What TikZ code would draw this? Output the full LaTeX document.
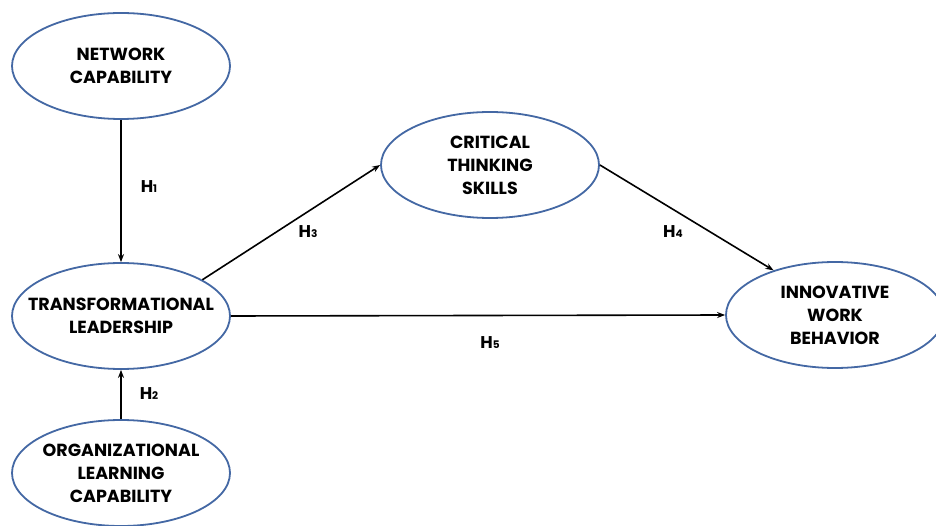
\documentclass[tikz,border=0pt]{standalone}
\usepackage{fontspec}
\setmainfont{Poppins}
\usepackage{tikz}
\usetikzlibrary{shapes.geometric,arrows.meta}
\definecolor{ovalblue}{RGB}{68,104,164}
\newcommand{\hsub}[1]{{\fontsize{10.5}{10.5}\selectfont #1}}
\tikzset{
  construct/.style={draw=ovalblue, line width=1.8pt, ellipse, inner xsep=-30pt, inner ysep=0pt,
    minimum width=218pt, minimum height=106pt, align=center,
    font=\fontsize{17.5}{23}\selectfont\bfseries},
  path/.style={line width=1.6pt, -{Stealth[length=8pt,width=6pt]}},
  hyp/.style={font=\fontsize{17}{20}\selectfont\bfseries}
}
\begin{document}
\begin{tikzpicture}[x=1pt,y=-1pt]
\useasboundingbox [fill=white] (0,0) rectangle (936,526);
\node [construct] (net) at (121,66) {NETWORK\\CAPABILITY};
\node [construct] (tl) at (121,316) {TRANSFORMATIONAL\\LEADERSHIP};
\node [construct] (olc) at (121,473) {ORGANIZATIONAL\\LEARNING\\CAPABILITY};
\node [construct] (cts) at (490,165) {CRITICAL\\THINKING\\SKILLS};
\node [construct] (iwb) at (835,315) {INNOVATIVE\\WORK\\BEHAVIOR};
%\node at (490,20) {model};
\draw [path] (net) -- (tl);
\draw [path] (olc) -- (tl);
\draw [path] (tl.24) -- (cts.west);
\draw [path] (cts.east) -- (iwb.144);
\draw [path] (tl.east) -- (iwb.west);
\node [hyp] (h1) at (149,187) {H\hsub{1}};
\node [hyp] (h2) at (149,394) {H\hsub{2}};
\node [hyp] (h3) at (308,232) {H\hsub{3}};
\node [hyp] (h4) at (673,232) {H\hsub{4}};
\node [hyp] (h5) at (490,343) {H\hsub{5}};
\end{tikzpicture}
\end{document}
